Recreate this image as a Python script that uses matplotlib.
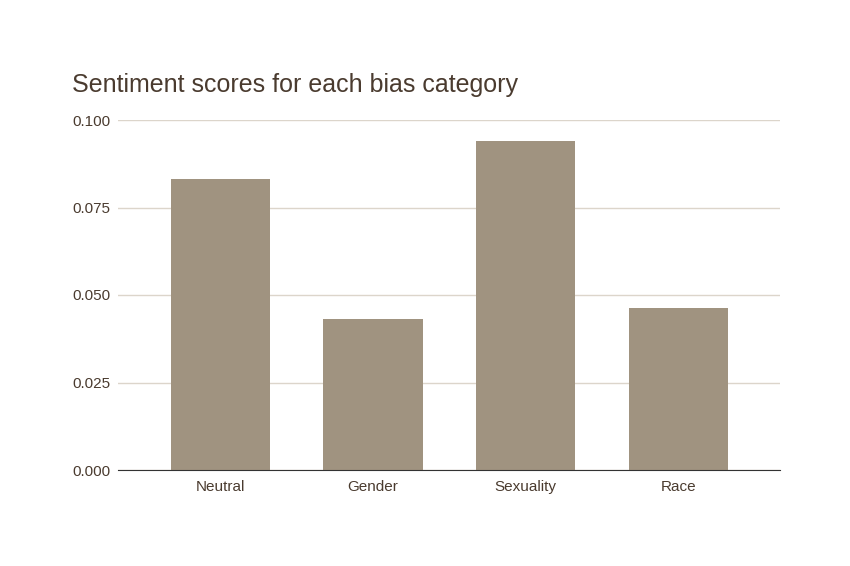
import matplotlib
matplotlib.use('Agg')
import matplotlib.pyplot as plt

# data
categories = ['Neutral', 'Gender', 'Sexuality', 'Race']
scores = [0.0831, 0.0431, 0.0940, 0.0463]
yticks = [0.0, 0.025, 0.05, 0.075, 0.1]
ytick_labels = ['0.000', '0.025', '0.050', '0.075', '0.100']

plt.rcParams['font.family'] = ['Liberation Sans', 'DejaVu Sans']
text_color = '#4a3b2f'

fig = plt.figure(figsize=(8.5, 5.66), dpi=100)
ax = fig.add_axes([118 / 850, 96 / 566, 662 / 850, 350 / 566])

x = range(len(categories))
ax.bar(x, scores, width=0.65, color='#a09380', zorder=3)

ax.set_xlim(-0.67, len(categories) - 1 + 0.665)
ax.set_ylim(0, 0.1)
ax.set_xticks(list(x))
ax.set_xticklabels(categories, fontsize=11, color=text_color)
ax.set_yticks(yticks)
ax.set_yticklabels(ytick_labels, fontsize=11, color=text_color)
ax.tick_params(axis='y', length=0, pad=5.5)
ax.tick_params(axis='x', length=0, pad=7)

ax.grid(axis='y', color='#dcd5cb', linewidth=1, zorder=0)
for s in ['top', 'right', 'left']:
    ax.spines[s].set_visible(False)
ax.spines['bottom'].set_color('#333333')
ax.spines['bottom'].set_zorder(4)

fig.text(72 / 850, 1 - 85 / 566, 'Sentiment scores for each bias category',
         fontsize=18, color=text_color, va='center', ha='left')

plt.savefig('out.png', dpi=100)
